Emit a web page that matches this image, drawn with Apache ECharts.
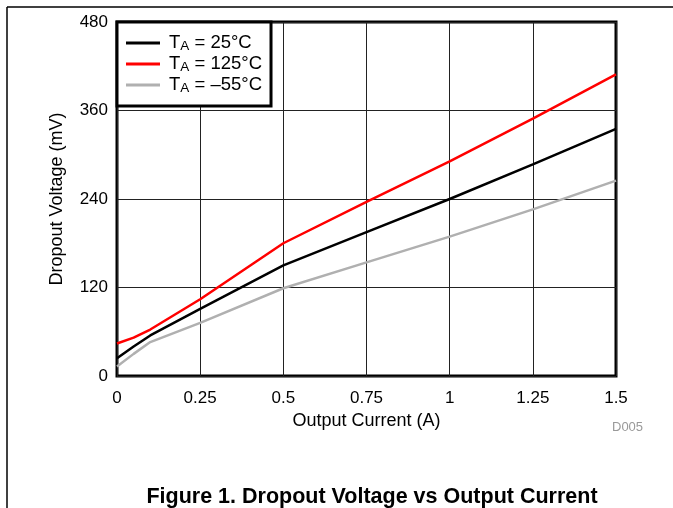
<!DOCTYPE html>
<html>
<head>
<meta charset="utf-8">
<script src="https://cdn.jsdelivr.net/npm/echarts@6/dist/echarts.min.js"></script>
<style>
  html, body { margin: 0; padding: 0; background: #fff; }
  #chart { width: 673px; height: 508px; }
</style>
</head>
<body>
<div id="chart"></div>
<script>
// output current (A)
const current = [0, 0.05, 0.1, 0.25, 0.5, 0.75, 1, 1.25, 1.5];
// dropout voltage (mV) per temperature
const vdo25 = [24, 40, 55, 91, 150, 195, 240, 287, 335];
const vdo125 = [44, 52, 63, 104, 180, 236, 291, 349, 409];
const vdoMinus55 = [13, 30, 46, 72, 119, 154, 189, 226, 265];
const seriesNames = ["25°C", "125°C", "–55°C"];
const seriesColors = ["#000000", "#ff0000", "#b0b0b0"];
const xTicks = [0, 0.25, 0.5, 0.75, 1, 1.25, 1.5];
const yTicks = [0, 120, 240, 360, 480];

const font = "Liberation Sans, Arial, sans-serif";
const chart = echarts.init(document.getElementById("chart"));

function pairs(xs, ys) {
  return xs.map((x, i) => [x, ys[i]]);
}
const allValues = [vdo25, vdo125, vdoMinus55];

const option = {
  animation: false,
  backgroundColor: "#fff",
  grid: {
    left: 117, top: 22, width: 499, height: 354,
    show: true, borderColor: "#000", borderWidth: 3
  },
  xAxis: {
    type: "value",
    min: 0, max: 1.5, interval: 0.25,
    name: "Output Current (A)",
    nameLocation: "middle",
    nameGap: 33,
    nameTextStyle: { fontFamily: font, fontSize: 18, color: "#000" },
    axisLine: { show: false },
    axisTick: { show: false },
    axisLabel: {
      margin: 14, fontFamily: font, fontSize: 17, color: "#000",
      formatter: v => xTicks.includes(v) ? String(v) : ""
    },
    splitLine: { show: true, lineStyle: { color: "#222", width: 1 } }
  },
  yAxis: {
    type: "value",
    min: 0, max: 480, interval: 120,
    name: "Dropout Voltage (mV)",
    nameLocation: "middle",
    nameGap: 51,
    nameTextStyle: { fontFamily: font, fontSize: 18, color: "#000" },
    axisLine: { show: false },
    axisTick: { show: false },
    axisLabel: {
      margin: 9, fontFamily: font, fontSize: 17, color: "#000",
      formatter: v => yTicks.includes(v) ? String(v) : ""
    },
    splitLine: { show: true, lineStyle: { color: "#222", width: 1 } }
  },
  legend: {
    left: 117, top: 22,
    orient: "vertical",
    backgroundColor: "#fff",
    borderColor: "#000", borderWidth: 3,
    padding: [11, 9, 11, 9],
    itemGap: 1,
    itemWidth: 34, itemHeight: 3,
    icon: "rect",
    data: seriesNames,
    formatter: name => "{g|}{t|T}{s|A}{t| = " + name + "}",
    textStyle: {
      fontFamily: font, fontSize: 18.5, color: "#000",
      rich: {
        g: { width: 4, lineHeight: 20 },
        t: { fontFamily: font, fontSize: 18.5, color: "#000", lineHeight: 20 },
        s: { fontFamily: font, fontSize: 13.5, color: "#000", verticalAlign: "bottom", lineHeight: 12, padding: [6, 0, 0, 0] }
      }
    }
  },
  series: seriesNames.map((n, i) => ({
    name: n,
    type: "line",
    data: pairs(current, allValues[i]),
    showSymbol: false,
    color: seriesColors[i],
    lineStyle: { width: 2.5, color: seriesColors[i] },
    z: 3
  })),
  graphic: [
    { type: "line", shape: { x1: 7, y1: 7, x2: 673, y2: 7 }, style: { stroke: "#000", lineWidth: 1.5 } },
    { type: "line", shape: { x1: 7, y1: 7, x2: 7, y2: 508 }, style: { stroke: "#000", lineWidth: 1.5 } },
    { type: "text", left: 612, top: 421, style: { text: "D005", fontFamily: font, fontSize: 13, fill: "#999" } },
    {
      type: "text", x: 372, y: 497,
      style: {
        text: "Figure 1. Dropout Voltage vs Output Current",
        fontFamily: font, fontSize: 21.5, fontWeight: "bold", fill: "#000",
        align: "center", verticalAlign: "middle"
      }
    }
  ]
};
chart.setOption(option);
</script>
</body>
</html>
